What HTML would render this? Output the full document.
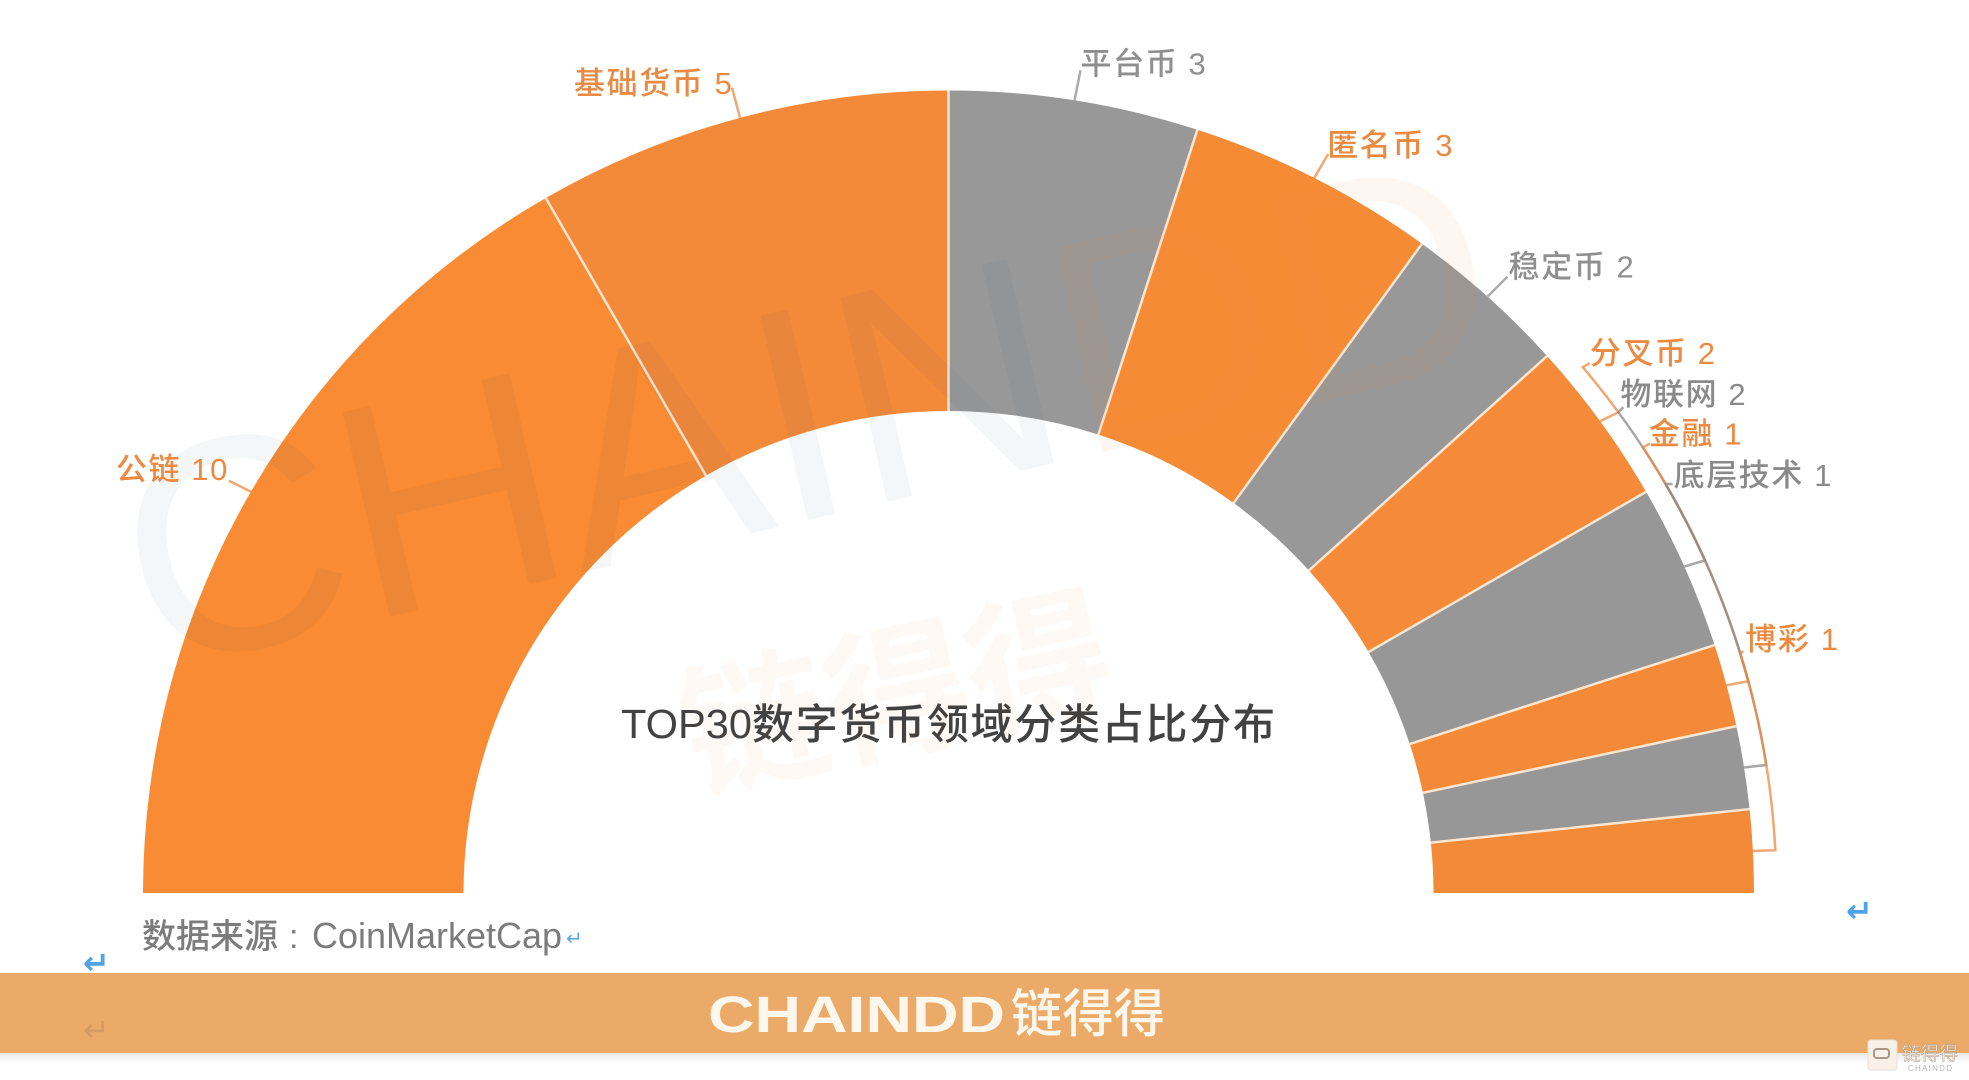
<!DOCTYPE html>
<html lang="zh">
<head>
<meta charset="utf-8">
<title>TOP30数字货币领域分类占比分布</title>
<style>
html,body{margin:0;padding:0;background:#fff;width:1969px;height:1080px;overflow:hidden}
svg{display:block}
text{font-family:"Liberation Sans","Noto Sans CJK SC",sans-serif}
</style>
</head>
<body>
<svg id="chart" xmlns="http://www.w3.org/2000/svg" width="1969" height="1080" viewBox="0 0 1969 1080">
  <rect width="1969" height="1080" fill="#ffffff"/>
  <g id="slices"></g>
  <g id="separators"></g>
  <g>
    <text transform="translate(150 672) rotate(-13)" font-size="305" textLength="1395" lengthAdjust="spacingAndGlyphs"><tspan fill="#3f4a60" fill-opacity="0.05">CHAIN</tspan><tspan fill="#F58A35" fill-opacity="0.07">DD</tspan></text>
    <text transform="translate(695 790) rotate(-12)" font-size="145" font-weight="700" fill="#F58A35" fill-opacity="0.055">链得得</text>
  </g>
  <g id="leaders"></g>
  <g id="labels"></g>
  <g>
    <text x="621" y="738" font-size="41" font-weight="500" fill="#424242" textLength="131" lengthAdjust="spacingAndGlyphs">TOP30</text>
    <text x="752" y="739" font-size="42" font-weight="500" fill="#424242" textLength="523">数字货币领域分类占比分布</text>
  </g>
  <text x="142" y="948" font-size="34" fill="#7c7c7c" font-weight="500">数据来源</text>
  <text x="289" y="948" font-size="34" fill="#7c7c7c">:</text>
  <text x="312" y="948" font-size="36" fill="#7c7c7c" textLength="250" lengthAdjust="spacingAndGlyphs">CoinMarketCap</text>
  <text x="566" y="945" font-size="20" fill="#5aa9e0" style="font-family:'DejaVu Sans',sans-serif">↵</text>
  <text x="1846" y="922" font-size="32" font-weight="700" fill="#4fa3e8" style="font-family:'DejaVu Sans',sans-serif">↵</text>
  <text x="83" y="974" font-size="32" font-weight="700" fill="#4fa3e8" style="font-family:'DejaVu Sans',sans-serif">↵</text>
  <defs>
    <linearGradient id="bandShadow" x1="0" y1="0" x2="0" y2="1">
      <stop offset="0" stop-color="#e8e8e8"/>
      <stop offset="1" stop-color="#ffffff"/>
    </linearGradient>
  </defs>
  <rect x="0" y="1053" width="1969" height="10" fill="url(#bandShadow)"/>
  <rect x="0" y="973" width="1969" height="80" fill="#ECAA68"/>
  <text x="83" y="1041" font-size="32" fill="#d59a62" style="font-family:'DejaVu Sans',sans-serif">↵</text>
  <text x="708" y="1032" font-size="51" font-weight="700" fill="#fdf7ee" textLength="297" lengthAdjust="spacingAndGlyphs">CHAINDD</text>
  <text x="1011" y="1032" font-size="52" font-weight="500" fill="#fdf7ee" textLength="154" lengthAdjust="spacingAndGlyphs">链得得</text>
  <g>
    <rect x="1868" y="1040" width="29" height="30" rx="3" fill="#f9f1e8" stroke="#e6e0d8"/>
    <rect x="1874" y="1049" width="15" height="9" rx="3" fill="none" stroke="#a89888" stroke-width="2"/>
    <text x="1902" y="1060" font-size="19" fill="#f6ecdf" stroke="#a89580" stroke-width="0.4" textLength="56" lengthAdjust="spacingAndGlyphs">链得得</text>
    <text x="1908" y="1071" font-size="8" fill="#b5b5b5" textLength="44">CHAINDD</text>
  </g>
</svg>
<script>
const categories = ['公链', '基础货币', '平台币', '匿名币', '稳定币', '分叉币', '物联网', '金融', '底层技术', '博彩'];
const seriesValues = [10, 5, 3, 3, 2, 2, 2, 1, 1, 1];
const sliceColors = ['#F88B33', '#F38A3A', '#989898', '#F68B36', '#989898', '#F58A38', '#979797', '#F48A37', '#979797', '#F28A38'];
const labelColors = ['#EC8A42', '#E98A45', '#8f8f8f', '#EC8A42', '#8f8f8f', '#EC8A42', '#8a8a8a', '#EC8A42', '#8a8a8a', '#EC8A42'];

const CX = 948.5, CY = 893;
const OUT_RX = 805.5, OUT_RY = 802.5, IN_RX = 485, IN_RY = 482;
const BR_RX = 828, BR_RY = 818;

/* Layout of each callout, relative to its slice: a straight leader (ex,ey),
   or a sweep along the bracket arc followed by a kink (kx,ky); then text offset (tx,ty). */
const calloutLayout = [
  {ex:-22, ey:-11, tx:-113, ty:-1},
  {ex:-8,  ey:-30, tx:-158, ty:6},
  {ex:6,   ey:-30, tx:0,    ty:4},
  {ex:14,  ey:-24, tx:-1,   ty:2},
  {ex:20,  ey:-20, tx:1,    ty:1},
  {sweep:4,  kx:7, ky:-4, tx:7, ty:-3},
  {sweep:12, kx:5, ky:-5, tx:2, ty:-7},
  {sweep:18, kx:7, ky:-4, tx:6, ty:-3},
  {sweep:21, kx:7, ky:0,  tx:8, ty:2},
  {sweep:14, kx:3, ky:-3, tx:5, ty:-4}
];

const SVG_NS = 'http://www.w3.org/2000/svg';
const total = seriesValues.reduce(function (a, b) { return a + b; }, 0);

/* axis function: cumulative value -> angle in degrees measured from the right end */
function angleOf(cumulative) {
  return 180 - (cumulative / total) * 180;
}
function polar(deg, rx, ry) {
  const a = deg * Math.PI / 180;
  return [CX + rx * Math.cos(a), CY - ry * Math.sin(a)];
}
function fmt(p) {
  return p[0].toFixed(2) + ' ' + p[1].toFixed(2);
}

const slicesG = document.getElementById('slices');
const separatorsG = document.getElementById('separators');
const leadersG = document.getElementById('leaders');
const labelsG = document.getElementById('labels');

let running = 0;
seriesValues.forEach(function (value, i) {
  const a0 = angleOf(running);
  const a1 = angleOf(running + value);
  running += value;
  const mid = (a0 + a1) / 2;

  const slice = document.createElementNS(SVG_NS, 'path');
  
  
  const large = (a0 - a1) > 180 ? 1 : 0;
  slice.setAttribute('d',
    'M' + fmt(polar(a0, OUT_RX, OUT_RY)) +
    ' A' + OUT_RX + ' ' + OUT_RY + ' 0 ' + large + ' 1 ' + fmt(polar(a1, OUT_RX, OUT_RY)) +
    ' L' + fmt(polar(a1, IN_RX, IN_RY)) +
    ' A' + IN_RX + ' ' + IN_RY + ' 0 ' + large + ' 0 ' + fmt(polar(a0, IN_RX, IN_RY)) + ' Z');
  slice.setAttribute('fill', sliceColors[i]);
  slicesG.appendChild(slice);

  if (i < seriesValues.length - 1) {
    const p0 = polar(a1, IN_RX, IN_RY);
    const p1 = polar(a1, OUT_RX, OUT_RY);
    const sep = document.createElementNS(SVG_NS, 'line');
    
    
    sep.setAttribute('x1', p0[0].toFixed(2));
    sep.setAttribute('y1', p0[1].toFixed(2));
    sep.setAttribute('x2', p1[0].toFixed(2));
    sep.setAttribute('y2', p1[1].toFixed(2));
    sep.setAttribute('stroke', '#fbe6d2');
    sep.setAttribute('stroke-width', '2.5');
    separatorsG.appendChild(sep);
  }

  const lay = calloutLayout[i];
  const start = polar(mid, OUT_RX, OUT_RY);
  let d, end;
  if (lay.sweep !== undefined) {
    const elbow = polar(mid, BR_RX, BR_RY);
    const arcEnd = polar(mid + lay.sweep, BR_RX, BR_RY);
    end = arcEnd;
    d = 'M' + fmt(start) + ' L' + fmt(elbow) +
        ' A' + BR_RX + ' ' + BR_RY + ' 0 0 0 ' + fmt(arcEnd) +
        ' l' + lay.kx + ' ' + lay.ky;
  } else {
    end = [start[0] + lay.ex, start[1] + lay.ey];
    d = 'M' + fmt(start) + ' L' + fmt(end);
  }
  const leader = document.createElementNS(SVG_NS, 'path');
  
  
  leader.setAttribute('d', d);
  leader.setAttribute('fill', 'none');
  leader.setAttribute('stroke', labelColors[i]);
  leader.setAttribute('stroke-width', '2.5');
  leader.setAttribute('opacity', '0.75');
  leadersG.appendChild(leader);

  const label = document.createElementNS(SVG_NS, 'text');
  
  
  label.setAttribute('x', (end[0] + lay.tx).toFixed(1));
  label.setAttribute('y', (end[1] + lay.ty).toFixed(1));
  label.setAttribute('font-size', '31');
  label.setAttribute('font-weight', '500');
  label.setAttribute('letter-spacing', '1.6');
  label.setAttribute('fill', labelColors[i]);
  label.textContent = categories[i] + ' ' + value;
  labelsG.appendChild(label);
});
</script>
</body>
</html>
